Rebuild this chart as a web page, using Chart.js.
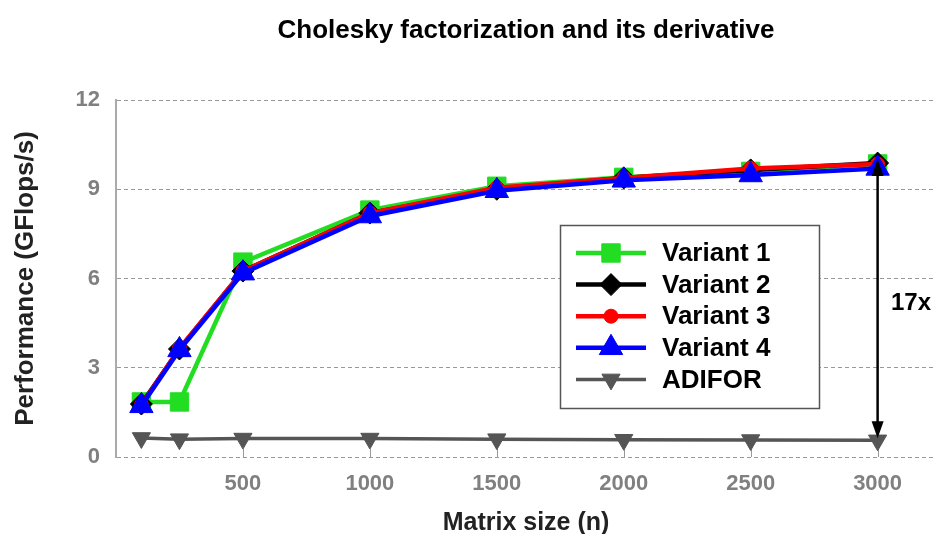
<!DOCTYPE html>
<html>
<head>
<meta charset="utf-8">
<script src="https://cdn.jsdelivr.net/npm/chart.js@4.4.1/dist/chart.umd.min.js"></script>
<style>
  body { margin: 0; background: #fff; }
  canvas { display: block; }
</style>
</head>
<body>
<canvas id="chart" width="936" height="534"></canvas>
<script>
// matrix sizes (n) and measured GFlops/s
const sizes = [100, 250, 500, 1000, 1500, 2000, 2500, 3000];
const variant1 = [1.85, 1.85, 6.55, 8.3, 9.1, 9.4, 9.6, 9.85];
const variant2 = [1.78, 3.63, 6.25, 8.2, 9.0, 9.38, 9.65, 9.88];
const variant3 = [1.75, 3.65, 6.25, 8.2, 9.05, 9.38, 9.7, 9.85];
const variant4 = [1.72, 3.6, 6.18, 8.1, 8.95, 9.3, 9.48, 9.7];
const adifor = [0.64, 0.6, 0.62, 0.62, 0.6, 0.58, 0.57, 0.56];
const seriesNames = ['Variant 1', 'Variant 2', 'Variant 3', 'Variant 4', 'ADIFOR'];
const xTicks = [500, 1000, 1500, 2000, 2500, 3000];
const yTicks = [0, 3, 6, 9, 12];
const speedupLabel = '17x';

const FONT = "'Liberation Sans', Arial, Helvetica, sans-serif";

function points(values) {
    return values.map((v, i) => ({ x: sizes[i], y: v }));
}

function series(i, values, color, style, radius, rotation, width, order) {
    return {
        label: seriesNames[i],
        data: points(values),
        borderColor: color,
        backgroundColor: color,
        borderWidth: width,
        pointStyle: style,
        pointRadius: radius,
        pointRotation: rotation,
        pointBorderWidth: 1,
        pointBackgroundColor: color,
        pointBorderColor: color,
        tension: 0,
        clip: false,
        order: order
    };
}

const datasets = [
    series(0, variant1, '#22dd22', 'rect', 13, 0, 4.5, 3),
    series(1, variant2, '#000000', 'rectRot', 11, 0, 4.5, 2),
    series(2, variant3, '#ff0000', 'circle', 7, 0, 4.5, 1),
    series(3, variant4, '#0000ff', 'triangle', 13.5, 0, 4.5, 0),
    series(4, adifor, '#555555', 'triangle', 10.5, 180, 3.5, 4)
];

const decor = {
    id: 'decor',
    beforeDatasetsDraw(chart) {
        // short tick marks inside the plot along the x axis
        const ctx = chart.ctx;
        const xs = chart.scales.x;
        const bottom = chart.chartArea.bottom;
        ctx.save();
        ctx.strokeStyle = '#999';
        ctx.lineWidth = 1;
        xTicks.forEach(v => {
            const px = Math.round(xs.getPixelForValue(v)) + 0.5;
            ctx.beginPath();
            ctx.moveTo(px, bottom - 8);
            ctx.lineTo(px, bottom);
            ctx.stroke();
        });
        ctx.restore();
    },
    afterDatasetsDraw(chart) {
        // double arrow showing the speedup at n = 3000
        const ctx = chart.ctx;
        const xs = chart.scales.x, ys = chart.scales.y;
        const last = sizes.length - 1;
        const px = xs.getPixelForValue(sizes[last]);
        const yTop = ys.getPixelForValue(variant2[last]) - 4;
        const yBot = ys.getPixelForValue(adifor[last]) - 2;
        ctx.save();
        ctx.strokeStyle = '#000';
        ctx.fillStyle = '#000';
        ctx.lineWidth = 2.5;
        ctx.beginPath();
        ctx.moveTo(px, yTop + 10);
        ctx.lineTo(px, yBot - 10);
        ctx.stroke();
        ctx.beginPath();
        ctx.moveTo(px, yTop);
        ctx.lineTo(px - 6, yTop + 17);
        ctx.lineTo(px + 6, yTop + 17);
        ctx.closePath();
        ctx.fill();
        ctx.beginPath();
        ctx.moveTo(px, yBot);
        ctx.lineTo(px - 6, yBot - 17);
        ctx.lineTo(px + 6, yBot - 17);
        ctx.closePath();
        ctx.fill();
        ctx.font = 'bold 24px ' + FONT;
        ctx.textAlign = 'left';
        ctx.textBaseline = 'alphabetic';
        ctx.fillText(speedupLabel, 891, 310);
        ctx.restore();
    },
    afterDraw(chart) {
        const ctx = chart.ctx;
        const area = chart.chartArea;
        ctx.save();
        ctx.fillStyle = '#000';
        ctx.textBaseline = 'alphabetic';
        ctx.textAlign = 'center';
        ctx.font = 'bold 26px ' + FONT;
        ctx.fillText('Cholesky factorization and its derivative', (area.left + area.right) / 2, 38);

        ctx.fillStyle = '#222';
        ctx.font = 'bold 25px ' + FONT;
        ctx.fillText('Matrix size (n)', (area.left + area.right) / 2, 530);

        ctx.save();
        ctx.translate(33, (area.top + area.bottom) / 2);
        ctx.rotate(-Math.PI / 2);
        ctx.font = 'bold 26px ' + FONT;
        ctx.fillText('Performance (GFlops/s)', 0, 0);
        ctx.restore();

        // legend box
        const bx = 560.5, by = 225.5, bw = 259, bh = 183;
        ctx.fillStyle = '#fff';
        ctx.fillRect(bx, by, bw, bh);
        ctx.strokeStyle = '#555';
        ctx.lineWidth = 1.5;
        ctx.strokeRect(bx, by, bw, bh);

        datasets.forEach((ds, i) => {
            const ry = 253 + i * 31.6;
            ctx.strokeStyle = ds.borderColor;
            ctx.lineWidth = ds.borderWidth;
            ctx.beginPath();
            ctx.moveTo(576, ry);
            ctx.lineTo(646, ry);
            ctx.stroke();
            ctx.fillStyle = ds.pointBackgroundColor;
            ctx.lineWidth = 1;
            Chart.helpers.drawPoint(ctx, {
                pointStyle: ds.pointStyle,
                radius: ds.pointRadius,
                rotation: ds.pointRotation,
                borderWidth: 1
            }, 611, ry);
            ctx.fillStyle = '#000';
            ctx.font = 'bold 26px ' + FONT;
            ctx.textAlign = 'left';
            ctx.textBaseline = 'middle';
            ctx.fillText(ds.label, 662, ry + 1);
        });
        ctx.restore();
    }
};

new Chart(document.getElementById('chart').getContext('2d'), {
    type: 'line',
    data: { datasets: datasets },
    options: {
        responsive: false,
        animation: false,
        layout: { autoPadding: false, padding: { top: 100, left: 0, right: 0, bottom: 0 } },
        plugins: {
            legend: { display: false },
            tooltip: { enabled: false },
            title: { display: false }
        },
        scales: {
            x: {
                type: 'linear',
                min: 0,
                max: 3230,
                afterBuildTicks(scale) {
                    scale.ticks = xTicks.map(v => ({ value: v }));
                },
                afterFit(scale) {
                    scale.height = 77;
                    scale.paddingLeft = 0;
                    scale.paddingRight = 0;
                },
                grid: { display: false, drawTicks: false },
                border: { display: false },
                ticks: {
                    color: '#808080',
                    padding: 14,
                    callback: v => String(v),
                    font: { family: FONT, size: 22, weight: 'bold' }
                }
            },
            y: {
                min: 0,
                max: 12,
                afterBuildTicks(scale) {
                    scale.ticks = yTicks.map(v => ({ value: v }));
                },
                afterFit(scale) { scale.width = 116; },
                grid: { color: '#999', lineWidth: 1, drawTicks: false },
                border: { display: true, color: '#aaa', width: 2, dash: [4, 3] },
                ticks: {
                    color: '#808080',
                    padding: 16,
                    font: { family: FONT, size: 22, weight: 'bold' }
                }
            }
        }
    },
    plugins: [decor]
});
</script>
</body>
</html>
